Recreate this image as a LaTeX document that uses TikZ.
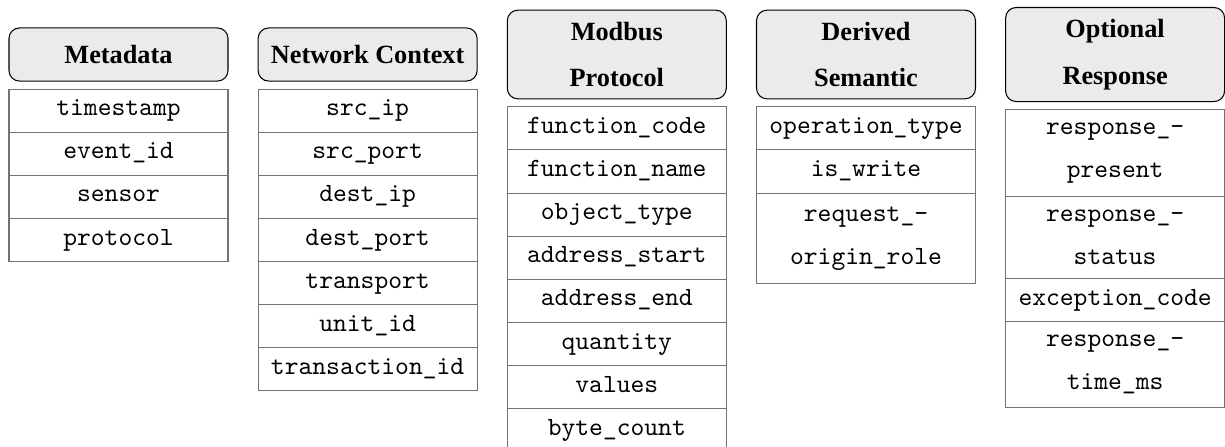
\documentclass[tikz,border=0pt]{standalone}
\usepackage{fontspec}
\setmainfont{Liberation Serif}
\usetikzlibrary{positioning}
\begin{document}
\begin{tikzpicture}[x=0.3804pt,y=0.3804pt,
  hdr/.style={draw=black, fill=black!8, rounded corners=4pt, minimum width=83.3pt,
    minimum height=20.2pt, inner ysep=4.5pt, inner xsep=2pt, align=center,
    font=\bfseries\fontsize{10}{17.7}\selectfont, outer sep=0pt},
  fld/.style={draw=black!55, minimum width=83.3pt, minimum height=16.4pt, inner ysep=0pt,
    text height=6.1pt, text depth=2.2pt, font=\ttfamily\fontsize{10}{12}\selectfont, outer sep=0pt},
  fldtwo/.style={draw=black!55, minimum width=83.3pt, inner ysep=5.1pt, align=center,
    font=\ttfamily\fontsize{10}{16.4}\selectfont, outer sep=0pt},
  gap/.style={below=3.04pt of #1},
  nxt/.style={below=0pt of #1}
]
\useasboundingbox (0,0) rectangle (1225,-446);
\clip (0,0) rectangle (1225,-446);

% Column 1: Metadata
\node[hdr] (h1) at (118.5,-54.5) {Metadata};
\node[fld, gap=h1] (a1) {timestamp};
\node[fld, nxt=a1] (a2) {event\_id};
\node[fld, nxt=a2] (a3) {sensor};
\node[fld, nxt=a3] (a4) {protocol};

% Column 2: Network Context
\node[hdr] (h2) at (367.6,-54.5) {Network Context};
\node[fld, gap=h2] (b1) {src\_ip};
\node[fld, nxt=b1] (b2) {src\_port};
\node[fld, nxt=b2] (b3) {dest\_ip};
\node[fld, nxt=b3] (b4) {dest\_port};
\node[fld, nxt=b4] (b5) {transport};
\node[fld, nxt=b5] (b6) {unit\_id};
\node[fld, nxt=b6] (b7) {transaction\_id};

% Column 3: Modbus Protocol
\node[hdr] (h3) at (616.8,-54.5) {Modbus\\Protocol};
\node[fld, gap=h3] (c1) {function\_code};
\node[fld, nxt=c1] (c2) {function\_name};
\node[fld, nxt=c2] (c3) {object\_type};
\node[fld, nxt=c3] (c4) {address\_start};
\node[fld, nxt=c4] (c5) {address\_end};
\node[fld, nxt=c5] (c6) {quantity};
\node[fld, nxt=c6] (c7) {values};
\node[fld, nxt=c7] (c8) {byte\_count};

% Column 4: Derived Semantic
\node[hdr] (h4) at (866,-54.5) {Derived\\Semantic};
\node[fld, gap=h4] (d1) {operation\_type};
\node[fld, nxt=d1] (d2) {is\_write};
\node[fldtwo, nxt=d2] (d3) {request\_-\\origin\_role};

% Column 5: Optional Response
\node[hdr] (h5) at (1115.1,-54.5) {Optional\\Response};
\node[fldtwo, gap=h5] (e1) {response\_-\\present};
\node[fldtwo, nxt=e1] (e2) {response\_-\\status};
\node[fld, nxt=e2] (e3) {exception\_code};
\node[fldtwo, nxt=e3] (e4) {response\_-\\time\_ms};
\end{tikzpicture}
\end{document}
